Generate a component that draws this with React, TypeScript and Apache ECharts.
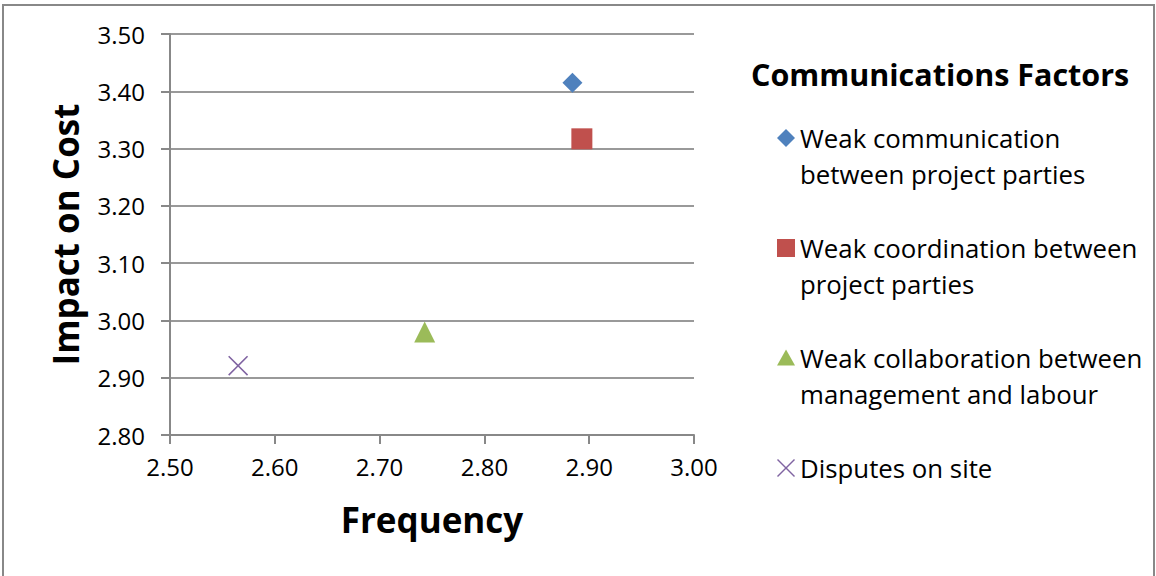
import React, { useEffect, useRef } from "react";
import * as echarts from "echarts";

const seriesNames = [
  "Weak communication between project parties",
  "Weak coordination between project parties",
  "Weak collaboration between management and labour",
  "Disputes on site",
];
const legendLabels = [
  "Weak communication\nbetween project parties",
  "Weak coordination between\nproject parties",
  "Weak collaboration between\nmanagement and labour",
  "Disputes on site\n ",
];
const frequency = [2.884, 2.893, 2.743, 2.565];
const impactOnCost = [3.415, 3.317, 2.98, 2.921];
const colors = ["#4F81BD", "#C0504D", "#9BBB59", "#8064A2"];

const X_PATH =
  "M0 1 L1 0 L9 8 L17 0 L18 1 L10 9 L18 17 L17 18 L9 10 L1 18 L0 17 L8 9 Z";
const chartSymbols = ["diamond", "rect", "triangle", "path://" + X_PATH];
const legendIcons = [
  "path://M9 0 L18 9 L9 18 L0 9 Z M0 54",
  "path://M0 0 L18 0 L18 18 L0 18 Z M0 54",
  "path://M9 1 L18 17 L0 17 Z M0 54",
  "path://" + X_PATH + " M0 54",
];
const symbolSizes = [20, 21, 21, 20];

const FONT = "'Open Sans', sans-serif";

export default function App() {
  const ref = useRef<HTMLDivElement>(null);
  useEffect(() => {
    if (!ref.current) return;
    const chart = echarts.init(ref.current, undefined, { renderer: "svg" });
    const labelMap: Record<string, string> = {};
    seriesNames.forEach((n, i) => (labelMap[n] = legendLabels[i]));
    chart.setOption({
      animation: false,
      backgroundColor: "#fff",
      title: {
        text: "Communications Factors",
        left: 751,
        top: 58,
        padding: 0,
        textStyle: { fontFamily: FONT, fontWeight: "bold", fontSize: 30.5, color: "#000" },
      },
      graphic: [
        {
          type: "rect",
          silent: true,
          shape: { x: 3, y: 5, width: 1151, height: 600 },
          style: { fill: "none", stroke: "#888", lineWidth: 2 },
        },
      ],
      legend: {
        orient: "vertical",
        left: 777,
        top: 120,
        padding: 0,
        itemGap: 38,
        itemWidth: 18,
        itemHeight: 54,
        data: seriesNames.map((n, i) => ({ name: n, icon: legendIcons[i] })),
        formatter: (n: string) => labelMap[n],
        textStyle: { fontFamily: FONT, fontSize: 25.8, lineHeight: 36, color: "#000" },
      },
      grid: { left: 170, right: 462, top: 34, bottom: 141, containLabel: false },
      xAxis: {
        type: "value",
        min: 2.5,
        max: 3.0,
        interval: 0.1,
        name: "Frequency",
        nameLocation: "middle",
        nameGap: 67,
        nameTextStyle: { fontFamily: FONT, fontWeight: "bold", fontSize: 35, color: "#000" },
        axisLine: { show: true, lineStyle: { color: "#888", width: 2 } },
        axisTick: { show: true, length: 9, lineStyle: { color: "#888", width: 2 } },
        axisLabel: {
          margin: 19,
          fontFamily: FONT,
          fontSize: 24,
          color: "#000",
          formatter: (v: number) => v.toFixed(2),
        },
        splitLine: { show: false },
      },
      yAxis: {
        type: "value",
        min: 2.8,
        max: 3.5,
        interval: 0.1,
        name: "Impact on Cost",
        nameLocation: "middle",
        nameGap: 87,
        nameTextStyle: { fontFamily: FONT, fontWeight: "bold", fontSize: 35, color: "#000" },
        axisLine: { show: true, lineStyle: { color: "#888", width: 2 } },
        axisTick: { show: true, length: 9, lineStyle: { color: "#888", width: 2 } },
        axisLabel: {
          margin: 25,
          fontFamily: FONT,
          fontSize: 24,
          color: "#000",
          formatter: (v: number) => v.toFixed(2),
        },
        splitLine: { show: true, lineStyle: { color: "#999", width: 2 } },
      },
      series: seriesNames.map((n, i) => ({
        name: n,
        type: "scatter",
        symbol: chartSymbols[i],
        symbolSize: symbolSizes[i],
        itemStyle: { color: colors[i], opacity: 1 },
        data: [[frequency[i], impactOnCost[i]]],
      })),
    });
    return () => chart.dispose();
  }, []);
  return (
    <div
      ref={ref}
      style={{ position: "fixed", left: 0, top: 0, width: 1156, height: 576 }}
    />
  );
}
